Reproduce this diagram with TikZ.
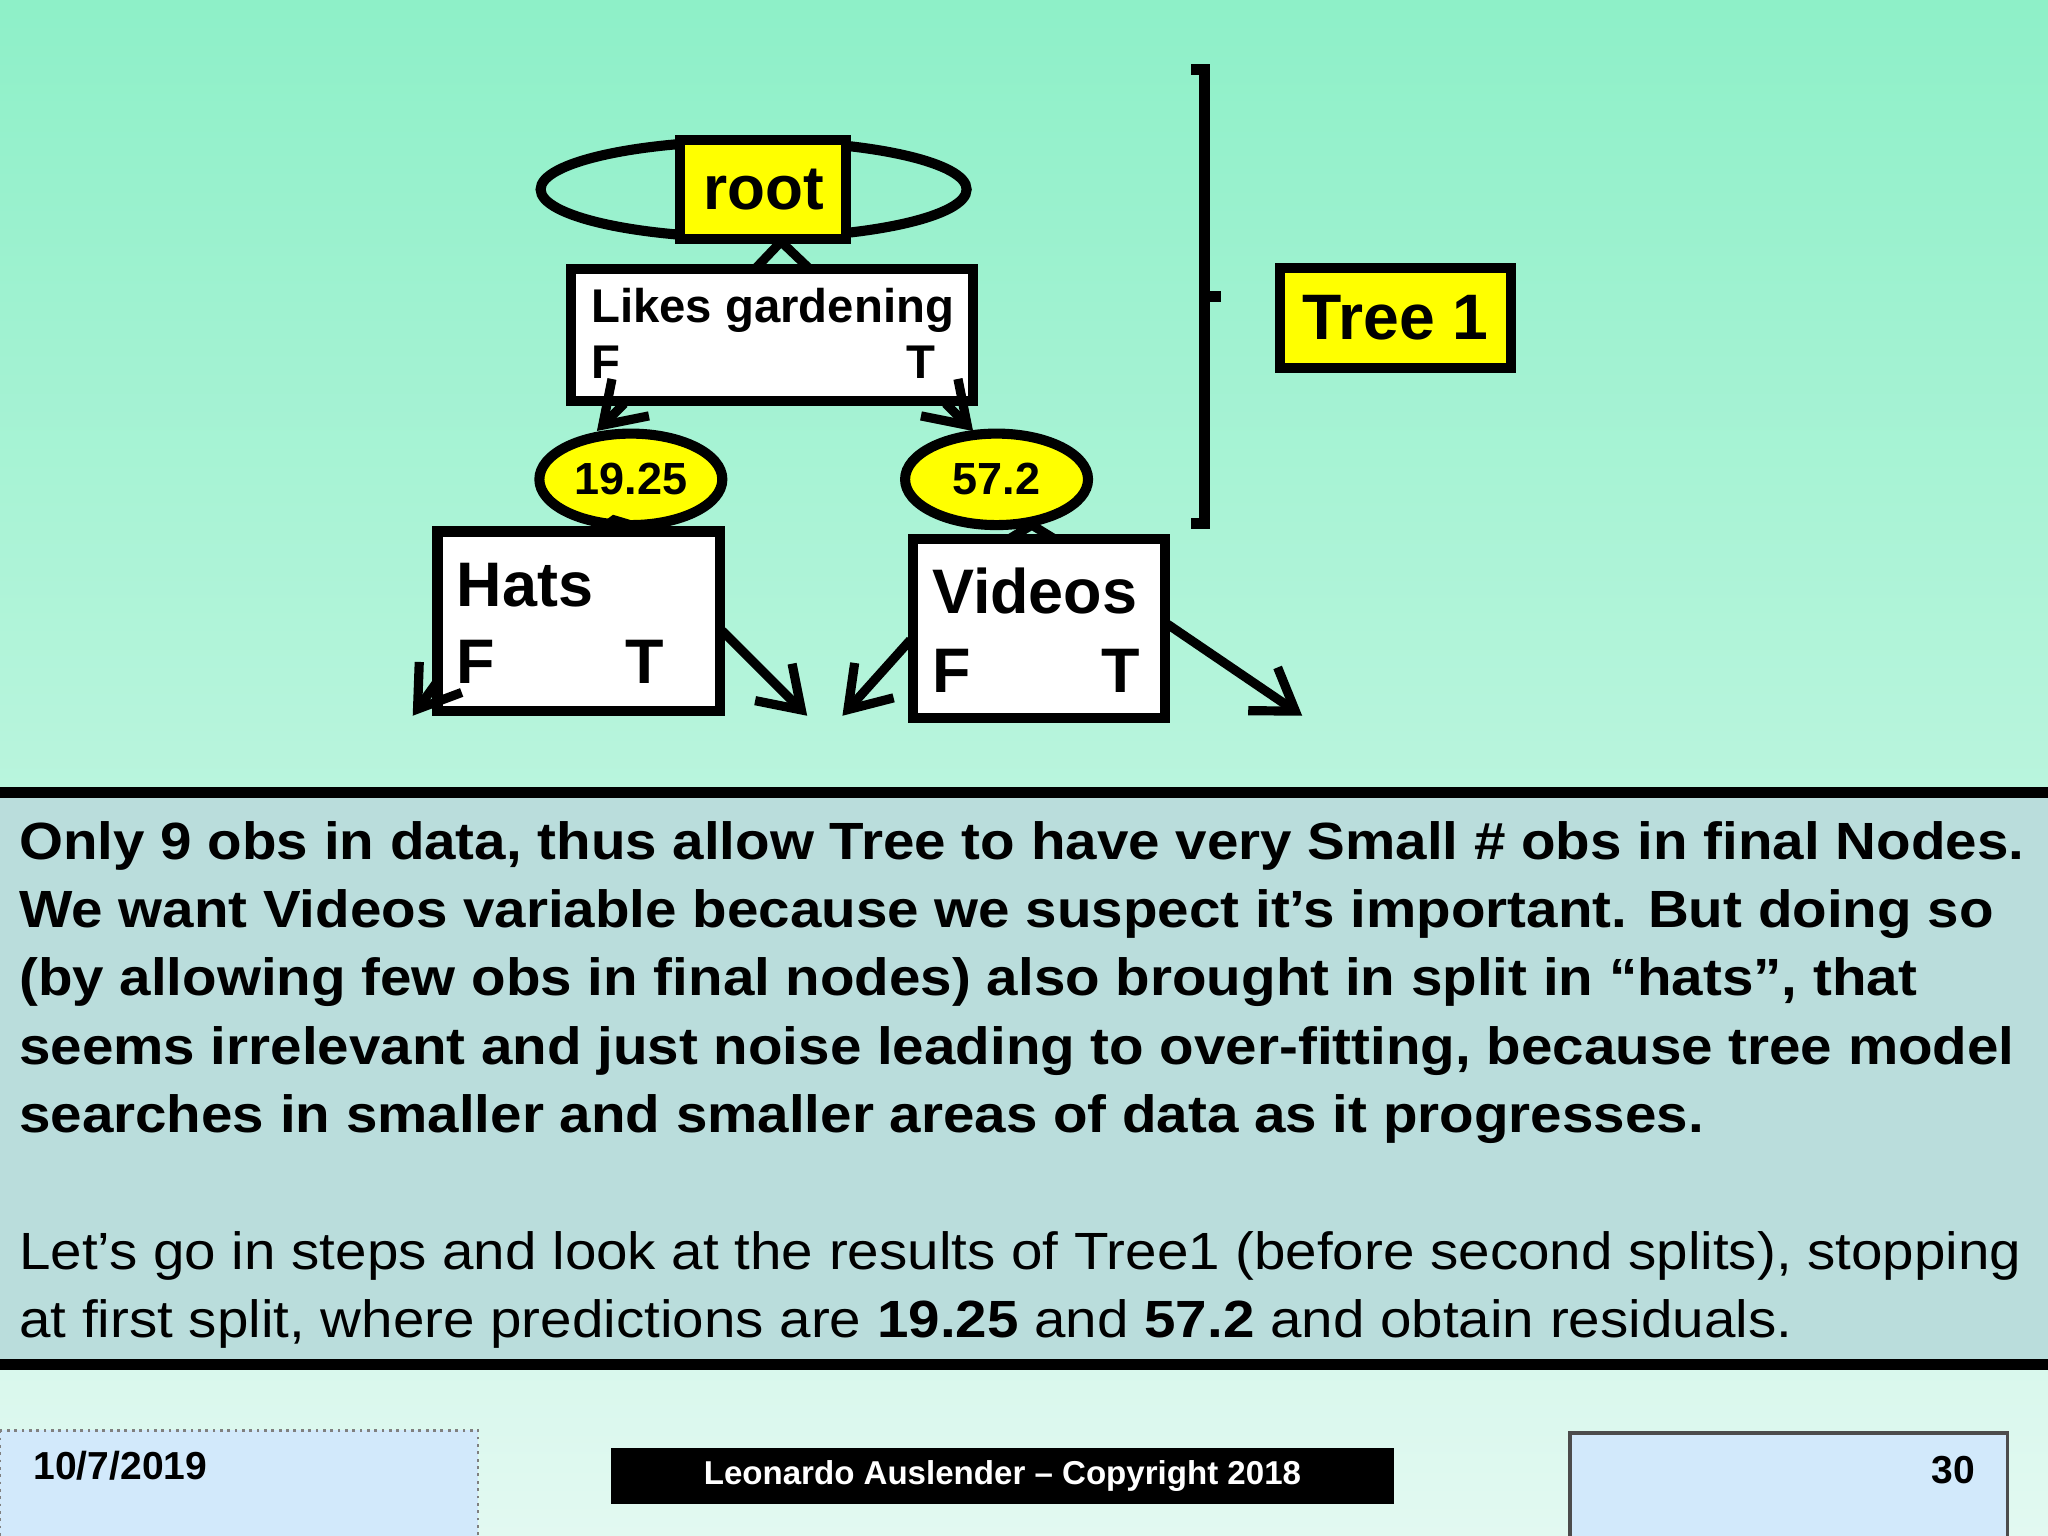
\documentclass[tikz,border=0pt]{standalone}
\usepackage{fontspec}
\setmainfont{Liberation Sans}
\newfontfamily\widefont[FakeStretch=1.08]{Liberation Sans}
\usetikzlibrary{shapes.geometric,arrows.meta}
\definecolor{ylw}{HTML}{FFFF00}
\definecolor{bgtop}{HTML}{8EF0C8}
\definecolor{bgbot}{HTML}{E2F9F1}
\definecolor{txtbg}{HTML}{BADDDC}
\definecolor{ftbox}{HTML}{D2E9FB}
\tikzset{
  P/.style={x=0.01cm,y=-0.01cm},
  box/.style={draw=black,line width=2.2pt},
  conn/.style={draw=black,line width=2pt},
  arr/.style={conn,-{Straight Barb[length=3mm,width=4mm,line width=2pt]}},
  lbl/.style={inner sep=0pt,anchor=base west},
}
\begin{document}
\begin{tikzpicture}[P]
\useasboundingbox (0,0) rectangle (1568,1176);
\shade[top color=bgtop,bottom color=bgbot] (0,0) rectangle (1568,1176);
% tree
\node[box,ellipse,inner sep=0pt,minimum width=3.26cm,minimum height=0.74cm] (rootell) at (577,145) {};
\node[box,fill=ylw,minimum width=1.27cm,minimum height=0.76cm,inner sep=0pt,font=\bfseries\fontsize{13.5}{14}\selectfont] (root) at (584.5,145) {root};
\node[box,fill=white,minimum width=3.08cm,minimum height=1.01cm,inner sep=0pt] (likes) at (591,256.5) {};
\node[lbl,font=\bfseries\fontsize{10.3}{12}\selectfont] (likest) at (452,247) {Likes gardening};
\node[lbl,font=\bfseries\fontsize{10.3}{12}\selectfont] (likesF) at (452,290) {F};
\node[lbl,font=\bfseries\fontsize{10.3}{12}\selectfont] (likesT) at (693,290) {T};
\coordinate (c1) at (578,206); \coordinate (c2) at (598,185); \coordinate (c3) at (620,206);
\draw[conn] (c1) -- (c2) -- (c3);
\node[box,ellipse,fill=ylw,minimum width=1.4cm,minimum height=0.7cm,inner sep=0pt,font=\bfseries\fontsize{9.8}{12}\selectfont] (e1) at (483,367) {19.25};
\node[box,ellipse,fill=ylw,minimum width=1.4cm,minimum height=0.7cm,inner sep=0pt,font=\bfseries\fontsize{9.8}{12}\selectfont] (e2) at (763,367) {57.2};
\coordinate (a1) at (478,309); \coordinate (a1e) at (457,330);
\coordinate (a2) at (724,309); \coordinate (a2e) at (745,330);
\draw[arr] (a1) -- (a1e);
\draw[arr] (a2) -- (a2e);
\node[box,fill=white,minimum width=2.16cm,minimum height=1.37cm,inner sep=0pt] (hats) at (443,475.5) {};
\node[lbl,font=\bfseries\fontsize{13.7}{14}\selectfont] (hatst) at (349,464) {Hats};
\node[lbl,font=\bfseries\fontsize{13.7}{14}\selectfont] (hatsF) at (349,523) {F};
\node[lbl,font=\bfseries\fontsize{13.7}{14}\selectfont] (hatsT) at (478,523) {T};
\node[box,fill=white,minimum width=1.93cm,minimum height=1.37cm,inner sep=0pt] (vid) at (795.5,481.5) {};
\node[lbl,font=\bfseries\fontsize{13.7}{14}\selectfont] (vidt) at (713,470) {Videos};
\node[lbl,font=\bfseries\fontsize{13.7}{14}\selectfont] (vidF) at (713,530) {F};
\node[lbl,font=\bfseries\fontsize{13.7}{14}\selectfont] (vidT) at (843,530) {T};
\coordinate (h1) at (458,407); \coordinate (h2) at (470,398); \coordinate (h3) at (500,407);
\draw[conn] (h1) -- (h2) -- (h3);
\coordinate (v1) at (772,413); \coordinate (v2) at (790,402); \coordinate (v3) at (808,413);
\draw[conn] (v1) -- (v2) -- (v3);
\coordinate (b1) at (334,523); \coordinate (b1e) at (316,548);
\coordinate (b2) at (553,483); \coordinate (b2e) at (618,548);
\coordinate (b3) at (697,490); \coordinate (b3e) at (645,548);
\coordinate (b4) at (894,478); \coordinate (b4e) at (997,548);
\draw[arr] (b1) -- (b1e);
\draw[arr] (b2) -- (b2e);
\draw[arr] (b3) -- (b3e);
\draw[arr] (b4) -- (b4e);
% bracket
\coordinate (k1) at (912,53); \coordinate (k2) at (922,53); \coordinate (k3) at (922,401); \coordinate (k4) at (912,401);
\coordinate (km) at (922,227); \coordinate (kt) at (935,227);
\draw[conn,line width=2.4pt] (k1) -- (k2) -- (k3) -- (k4);
\draw[conn,line width=2.4pt] (km) -- (kt);
\node[box,fill=ylw,minimum width=1.77cm,minimum height=0.77cm,inner sep=0pt,font=\bfseries\fontsize{14}{15}\selectfont] (tree1) at (1068.5,243.5) {Tree 1};
% text box
\draw[fill=txtbg,line width=2.4pt] (-5,607) rectangle (1573,1045);
\begin{scope}[font=\widefont\bfseries\fontsize{11.4}{13}\selectfont]
\node[lbl] (l1) at (14,658) {Only 9 obs in data, thus allow Tree to have very Small \# obs in final Nodes.};
\node[lbl] (l2) at (14,710) {We want Videos variable because we suspect it’s important. But doing so};
\node[lbl] (l3) at (14,762) {(by allowing few obs in final nodes) also brought in split in “hats”, that};
\node[lbl] (l4) at (14,815) {seems irrelevant and just noise leading to over-fitting, because tree model};
\node[lbl] (l5) at (14,867) {searches in smaller and smaller areas of data as it progresses.};
\end{scope}
\begin{scope}[font=\widefont\fontsize{11.4}{13}\selectfont]
\node[lbl] (l6) at (14,972) {Let’s go in steps and look at the results of Tree1 (before second splits), stopping};
\node[lbl] (l7) at (14,1024) {at first split, where predictions are \textbf{19.25} and \textbf{57.2} and obtain residuals.};
\end{scope}
% footer
\draw[fill=ftbox,draw=gray,densely dotted,line width=0.6pt] (0,1095) rectangle (366,1180);
\node[lbl,font=\bfseries\fontsize{8.5}{10}\selectfont] (date) at (25,1133) {10/7/2019};
\node[fill=black,minimum width=5.99cm,minimum height=0.43cm,inner sep=0pt,text=white,font=\bfseries\fontsize{7.2}{9}\selectfont] (copy) at (767.5,1130) {Leonardo Auslender – Copyright 2018};
\draw[fill=ftbox,draw=black!70,line width=0.8pt] (1202,1097) rectangle (1537,1180);
\node[inner sep=0pt,anchor=base east,font=\bfseries\fontsize{8.5}{10}\selectfont] (pg) at (1513,1136) {30};
\end{tikzpicture}
\end{document}
